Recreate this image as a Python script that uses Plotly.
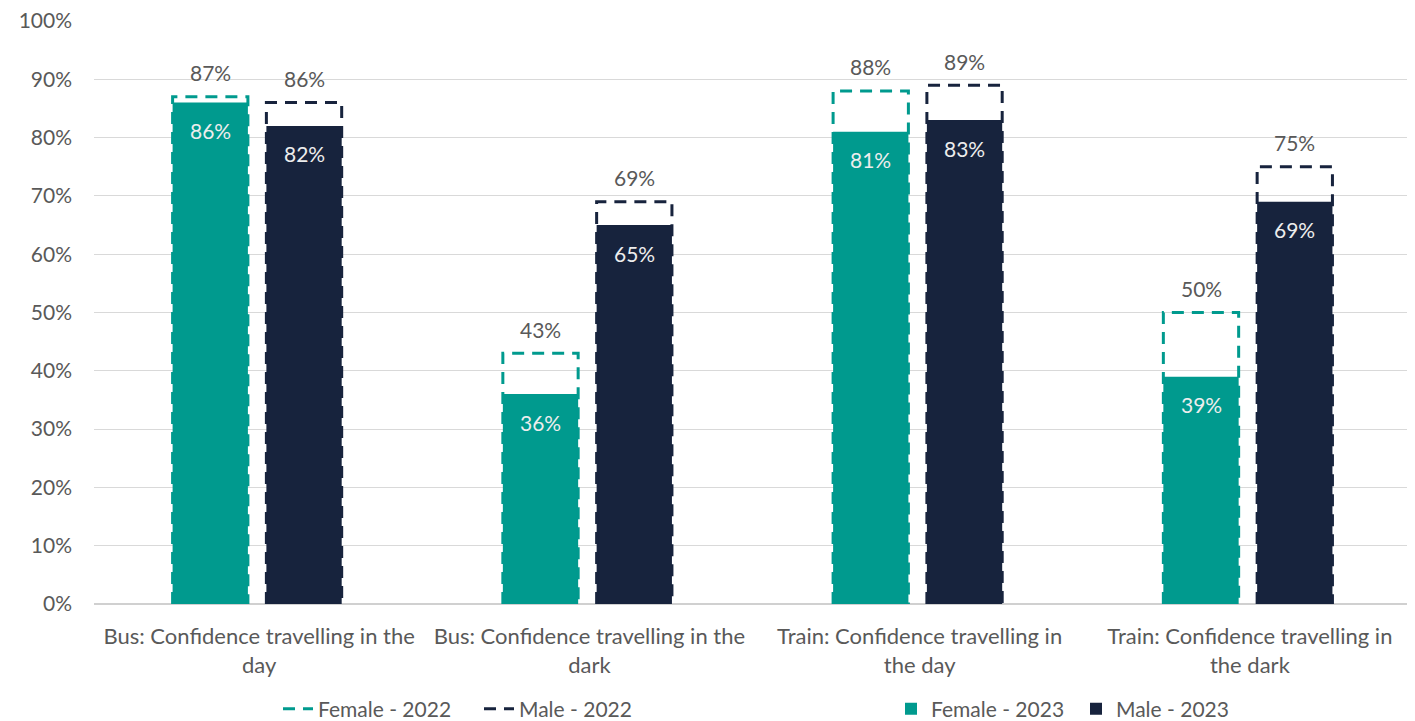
import plotly.graph_objects as go

categories = [
    "Bus: Confidence travelling in the<br>day",
    "Bus: Confidence travelling in the<br>dark",
    "Train: Confidence travelling in<br>the day",
    "Train: Confidence travelling in<br>the dark",
]
female_2022 = [87, 43, 88, 50]
male_2022 = [86, 69, 89, 75]
female_2023 = [86, 36, 81, 39]
male_2023 = [82, 65, 83, 69]
y_ticks = list(range(0, 101, 10))
y_tick_labels = ["%d%%" % t for t in y_ticks]

TEAL = "#009A8E"
NAVY = "#17233D"
GREY = "#595959"
FONT = "Lato, 'Open Sans', sans-serif"
FS = 21

W, H = 1407, 713

BAR_W = 0.228
OFF_F = -0.262
OFF_M = 0.022

xs = list(range(len(categories)))
fig = go.Figure()
annotations = []

def filled(name, vals, off, color, legend):
    fig.add_trace(go.Bar(
        x=xs, y=vals, name=name, width=BAR_W, offset=off,
        marker=dict(color=color, line=dict(width=0)),
        legend=legend,
    ))
    for i, v in zip(xs, vals):
        annotations.append(dict(
            x=i + off + BAR_W / 2, y=v, xref="x", yref="y", yshift=-28,
            text="%d%%" % v, showarrow=False,
            font=dict(color="#EDEDED", size=FS, family=FONT),
        ))

def outline(name, vals, off, color, legend):
    px, py = [], []
    for i, v in zip(xs, vals):
        x0 = i + off
        x1 = x0 + BAR_W
        px += [x0, x0, x1, x1, None]
        py += [0, v, v, 0, None]
        annotations.append(dict(
            x=(x0 + x1) / 2, y=v, xref="x", yref="y", yshift=24,
            text="%d%%" % v, showarrow=False,
            font=dict(color=GREY, size=FS, family=FONT),
        ))
    fig.add_trace(go.Scatter(
        x=px, y=py, name=name, mode="lines",
        line=dict(color=color, width=3, dash="12px,8px"),
        cliponaxis=False, legend=legend,
    ))

filled("Female - 2023", female_2023, OFF_F, TEAL, "legend2")
filled("Male - 2023", male_2023, OFF_M, NAVY, "legend2")
outline("Female - 2022", female_2022, OFF_F, TEAL, "legend")
outline("Male - 2022", male_2022, OFF_M, NAVY, "legend")

fig.update_layout(
    width=W, height=H,
    margin=dict(l=86, r=0, t=13, b=117, autoexpand=False),
    plot_bgcolor="white", paper_bgcolor="white",
    barmode="overlay",
    font=dict(family=FONT, color=GREY, size=FS),
    annotations=annotations,
    xaxis=dict(
        tickmode="array", tickvals=xs, ticktext=categories,
        range=[-0.5, 3.5], showgrid=False, zeroline=False,
        tickfont=dict(size=22, color=GREY), ticks="", showline=False,
        ticklabelstandoff=17,
    ),
    yaxis=dict(
        range=[0, 100], tickmode="array", tickvals=y_ticks, ticktext=y_tick_labels,
        showgrid=True, gridcolor="#D9D9D9", gridwidth=1.2,
        zeroline=True, zerolinecolor="#D0D0D0", zerolinewidth=2,
        tickfont=dict(size=FS, color=GREY), ticklabelstandoff=21,
        ticklabeloverflow="allow",
    ),
    legend=dict(
        orientation="h", xref="container", x=270 / W, xanchor="left",
        yref="container", y=12 / H, yanchor="middle",
        font=dict(size=FS, color=GREY), entrywidth=156, entrywidthmode="pixels",
        itemwidth=30, bgcolor="rgba(0,0,0,0)",
    ),
    legend2=dict(
        orientation="h", xref="container", x=883 / W, xanchor="left",
        yref="container", y=12 / H, yanchor="middle",
        font=dict(size=FS, color=GREY), entrywidth=140, entrywidthmode="pixels",
        itemwidth=30, bgcolor="rgba(0,0,0,0)",
    ),
    showlegend=True,
)

fig.write_html("out.html")
